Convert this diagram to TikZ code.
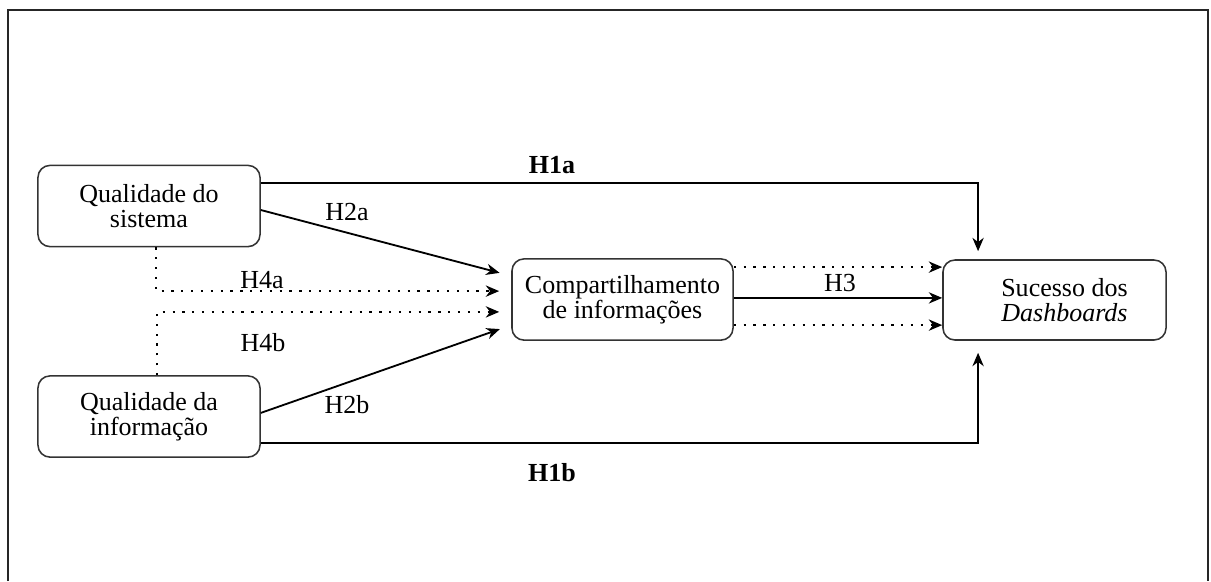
\documentclass[tikz,border=0pt]{standalone}
\usepackage{fontspec}
\setmainfont{Liberation Serif}
\usetikzlibrary{arrows.meta}

\begin{document}
\begin{tikzpicture}[x=0.025cm,y=-0.025cm,font=\fontsize{18.5}{18}\selectfont,
	box/.style={draw=black!80,line width=1.1pt,rounded corners=0.3cm,align=center,inner sep=0pt,minimum width=5.55cm,minimum height=2.03cm},
	arr/.style={-{Stealth[length=9.5pt,width=8pt,inset=3pt]},line width=1.3pt},
	dotarr/.style={arr,dash pattern=on 1.6pt off 5.4pt,line width=1.5pt},
	frame/.style={draw=black!85,line width=1.4pt}]
	\useasboundingbox (0,0) rectangle (1211,581);
	\draw[frame] (8,581) -- (8,10) -- (1208,10) -- (1208,581);
	\node[box] (sist) at (149,206) {Qualidade do\\sistema};
	\node[box] (info) at (149,416.5) {Qualidade da\\informação};
	\node[box,minimum width=5.525cm] (comp) at (622.5,299.5) {Compartilhamento\\de informações};
	\node[box,minimum width=5.575cm,minimum height=2cm] (suc) at (1054.5,300) {\hspace*{0.5cm}Sucesso dos\\\hspace*{0.5cm}\textit{Dashboards}};
	\coordinate (o1) at ([yshift=0.81cm]comp.east);
	\coordinate (o2) at ([yshift=0.04cm]comp.east);
	\coordinate (o3) at ([yshift=-0.64cm]comp.east);
	\draw[arr,shorten >=0.2cm] ([yshift=0.575cm]sist.east) -| ([xshift=-1.91cm]suc.north);
	\draw[arr,shorten >=0.3cm] ([yshift=-0.66cm]info.east) -| ([xshift=-1.91cm]suc.south);
	\draw[arr,shorten >=0.3cm] ([yshift=-0.1cm]sist.east) -- ([yshift=0.59cm]comp.west);
	\draw[arr,shorten >=0.3cm] ([yshift=0.09cm]info.east) -- ([yshift=-0.64cm]comp.west);
	\draw[dotarr,shorten >=0.3cm] ([xshift=0.175cm]sist.south) |- ([yshift=0.21cm]comp.west);
	\draw[dotarr,shorten >=0.3cm] ([xshift=0.2cm]info.north) |- ([yshift=-0.31cm]comp.west);
	\draw[dotarr] (o1) -- (o1 -| suc.west);
	\draw[arr] (o2) -- (o2 -| suc.west);
	\draw[dotarr] (o3) -- (o3 -| suc.west);
	\node (h1a) at (552,165) {\textbf{H1a}};
	\node (h1b) at (552,473) {\textbf{H1b}};
	\node (h2a) at (347,212) {H2a};
	\node (h2b) at (347,405) {H2b};
	\node (h4a) at (262,280) {H4a};
	\node (h4b) at (263,343) {H4b};
	\node (h3) at (840,283) {H3};
\end{tikzpicture}
\end{document}
